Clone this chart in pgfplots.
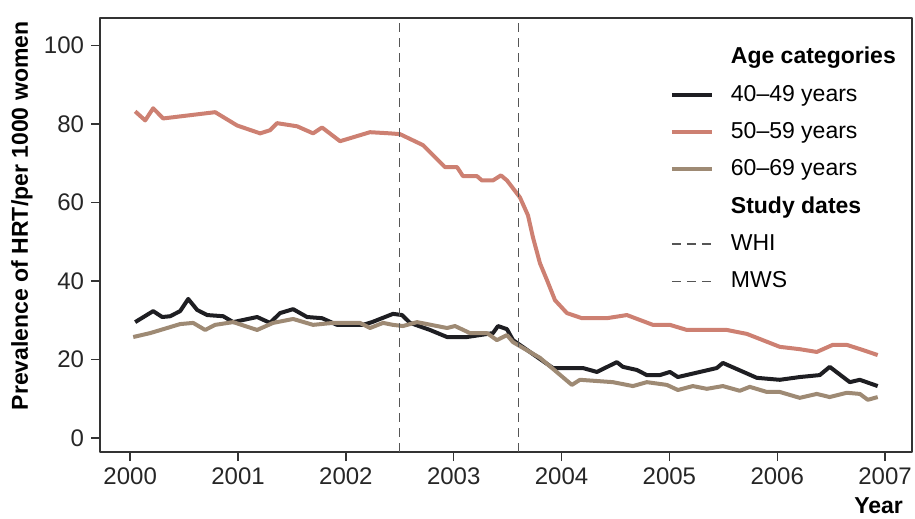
\documentclass[border=0pt]{standalone}
\usepackage{pgfplots}
\pgfplotsset{compat=1.18}
\usepackage{fontspec}
\setmainfont{Liberation Sans}
\definecolor{cBlack}{HTML}{1E1E22}
\definecolor{cPink}{HTML}{CD8072}
\definecolor{cGray}{HTML}{9E8A74}
\definecolor{cDash}{HTML}{555555}
\begin{document}
\begin{tikzpicture}
\useasboundingbox (-50pt,-33.5pt) rectangle (407.5pt,226pt);
\begin{axis}[
  at={(0,0)}, anchor=south west,
  scale only axis, width=406pt, height=217pt,
  xmin=1999.72, xmax=2007.25, ymin=-3.6, ymax=107,
  xtick={2000,2001,2002,2003,2004,2005,2006,2007},
  ytick={0,20,40,60,80,100},
  xtick pos=left, ytick pos=left, tick align=outside,
  major tick length=4.5pt,
  tick style={draw=black!80, line width=0.7pt},
  axis line style={draw=black!80, line width=0.8pt},
  /pgf/number format/assume math mode=true,
  /pgf/number format/1000 sep={},
  ticklabel style={font=\fontsize{12}{14}\selectfont, text=black!85},
  ylabel={\bfseries Prevalence of HRT/per 1000 women},
  ylabel style={at={(axis description cs:-0.096,0.544)}, anchor=center, font=\fontsize{11.5}{13}\selectfont},
  xlabel={\bfseries Year},
  xlabel style={at={(axis description cs:0.9975,-0.088)}, anchor=north east, font=\fontsize{11.5}{13}\selectfont},
  legend cell align=left,
  legend style={at={(0.694,0.952)}, anchor=north west, draw=none, fill=none,
    font=\fontsize{11.5}{13}\selectfont, row sep=5.1pt},
  legend image code/.code={\draw[#1] (0pt,0pt) -- (20pt,0pt); \path (26.5pt,0pt);},
  line join=round,
]
\addlegendimage{empty legend}
\addlegendentry{\textbf{Age categories}}

\addplot[cBlack, line width=2pt] coordinates {
(2000.046,29.5)(2000.213,32.3)(2000.297,30.8)(2000.371,31.0)(2000.463,32.3)
(2000.538,35.4)(2000.621,32.6)(2000.714,31.3)(2000.862,31.0)(2000.955,29.5)
(2001.177,30.8)(2001.297,29.3)(2001.390,31.8)(2001.511,32.8)(2001.640,30.8)
(2001.779,30.5)(2001.918,28.8)(2002.159,28.8)(2002.243,29.5)(2002.437,31.6)
(2002.521,31.3)(2002.595,29.3)(2002.780,27.5)(2002.938,25.7)(2003.123,25.7)
(2003.364,26.7)(2003.411,28.5)(2003.494,27.7)(2003.550,24.9)(2003.920,17.8)
(2004.198,17.8)(2004.328,16.8)(2004.513,19.3)(2004.569,18.1)(2004.699,17.3)
(2004.791,16.0)(2004.912,16.0)(2005.005,16.8)(2005.079,15.5)(2005.440,17.8)
(2005.496,19.1)(2005.811,15.3)(2006.024,14.8)(2006.209,15.5)(2006.395,16.0)
(2006.487,18.1)(2006.673,14.2)(2006.766,14.8)(2006.932,13.2)
};
\addlegendentry{40--49 years}

\addplot[cPink, line width=2pt] coordinates {
(2000.046,83.2)(2000.139,80.9)(2000.213,84.0)(2000.306,81.4)(2000.788,83.0)
(2000.992,79.6)(2001.205,77.6)(2001.297,78.4)(2001.362,80.2)(2001.548,79.4)
(2001.696,77.6)(2001.779,79.1)(2001.946,75.6)(2002.067,76.6)(2002.224,77.9)
(2002.410,77.6)(2002.502,77.4)(2002.715,74.6)(2002.919,69.0)(2003.031,69.0)
(2003.086,66.7)(2003.216,66.7)(2003.262,65.6)(2003.364,65.6)(2003.438,66.9)
(2003.494,65.6)(2003.550,63.6)(2003.614,61.3)(2003.689,56.7)(2003.735,51.1)
(2003.800,44.5)(2003.865,40.2)(2003.939,35.1)(2004.050,31.8)(2004.189,30.5)
(2004.421,30.5)(2004.606,31.3)(2004.847,28.8)(2005.005,28.8)(2005.162,27.5)
(2005.533,27.5)(2005.718,26.5)(2005.839,25.2)(2006.024,23.2)(2006.209,22.6)
(2006.367,21.9)(2006.515,23.7)(2006.645,23.7)(2006.793,22.4)(2006.932,21.1)
};
\addlegendentry{50--59 years}

\addplot[cGray, line width=2pt] coordinates {
(2000.028,25.7)(2000.185,26.7)(2000.343,28.0)(2000.463,29.0)(2000.584,29.3)
(2000.695,27.5)(2000.788,28.8)(2000.955,29.5)(2001.177,27.5)(2001.325,29.3)
(2001.511,30.3)(2001.696,28.8)(2001.881,29.3)(2002.131,29.3)(2002.224,28.0)
(2002.345,29.3)(2002.437,28.8)(2002.530,28.5)(2002.660,29.5)(2002.845,28.5)
(2002.938,28.0)(2003.012,28.5)(2003.151,26.7)(2003.309,26.7)(2003.401,24.9)
(2003.494,26.2)(2003.550,24.4)(2003.800,20.4)(2004.096,13.5)(2004.171,14.8)
(2004.476,14.2)(2004.662,13.2)(2004.791,14.2)(2004.977,13.5)(2005.079,12.2)
(2005.218,13.2)(2005.348,12.5)(2005.496,13.2)(2005.653,12.0)(2005.746,13.0)
(2005.904,11.7)(2006.024,11.7)(2006.209,10.2)(2006.367,11.2)(2006.487,10.4)
(2006.645,11.5)(2006.766,11.2)(2006.840,9.7)(2006.932,10.4)
};
\addlegendentry{60--69 years}

\addlegendimage{empty legend}
\addlegendentry{\textbf{Study dates}}

\addplot[cDash, line width=0.7pt, dash pattern=on 4.5pt off 3pt] coordinates {(2002.5,-3.6)(2002.5,107)};
\addlegendentry{WHI}
\addplot[cDash, line width=0.7pt, dash pattern=on 4.5pt off 3pt] coordinates {(2003.6,-3.6)(2003.6,107)};
\addlegendentry{MWS}
\end{axis}
\end{tikzpicture}
\end{document}
